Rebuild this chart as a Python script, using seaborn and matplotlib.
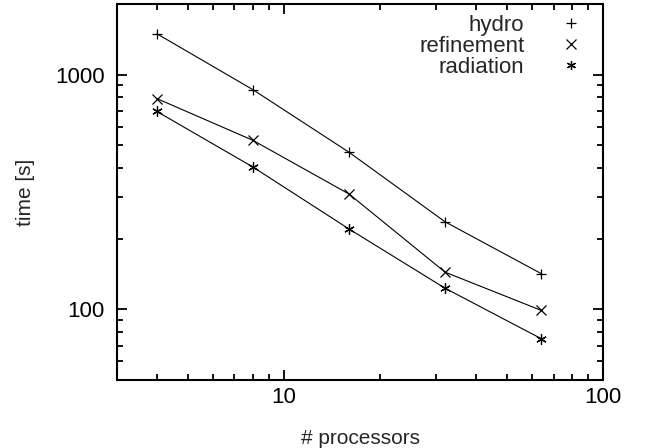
import numpy as np
import pandas as pd
import seaborn as sb
import matplotlib
matplotlib.use("Agg")
import matplotlib.pyplot as plt
from matplotlib.ticker import LogLocator, NullFormatter, FixedLocator, FixedFormatter

# processors used in each run
processors = [4, 8, 16, 32, 64]

# wall-clock time per component [s]
hydro = [1494, 863, 467, 236, 142]
refinement = [791, 525, 310, 144, 99]
radiation = [697, 404, 220, 123, 75]

series_names = ["hydro", "refinement", "radiation"]
series_values = [hydro, refinement, radiation]
series_markers = ["+", "x", (6, 2, 0)]

sb.set_style("ticks", {"xtick.direction": "in", "ytick.direction": "in",
                       "xtick.top": True, "ytick.right": True})
plt.rcParams["font.family"] = ["Liberation Sans", "DejaVu Sans"]

fig = plt.figure(figsize=(6.45, 4.48), dpi=100)
ax = fig.add_axes([0.1814, 0.1518, 0.7536, 0.8392])

for name, vals, mk in zip(series_names, series_values, series_markers):
    df = pd.DataFrame({"procs": processors, "time": vals})
    sb.lineplot(data=df, x="procs", y="time", ax=ax, color="black", lw=0.8,
                marker=mk, markersize=7.5, markeredgewidth=0.9,
                markeredgecolor="black", markerfacecolor="none")
    # legend entry: marker only
    ax.plot([], [], ls="none", marker=mk, color="black", markersize=6.5,
            markeredgewidth=0.9, label=name)

ax.set_xscale("log")
ax.set_yscale("log")
ax.set_xlim(3, 100)
ax.set_ylim(50, 2000)

ax.xaxis.set_major_locator(FixedLocator([10, 100]))
ax.xaxis.set_major_formatter(FixedFormatter(["10", "100"]))
ax.xaxis.set_minor_locator(LogLocator(base=10, subs=np.arange(2, 10)))
ax.xaxis.set_minor_formatter(NullFormatter())
ax.yaxis.set_major_locator(FixedLocator([100, 1000]))
ax.yaxis.set_major_formatter(FixedFormatter(["100", "1000"]))
ax.yaxis.set_minor_locator(LogLocator(base=10, subs=np.arange(2, 10)))
ax.yaxis.set_minor_formatter(NullFormatter())

ax.tick_params(which="both", direction="in", top=True, right=True,
               bottom=True, left=True,
               colors="black", labelsize=16, width=1.3)
ax.tick_params(which="major", length=7)
ax.tick_params(axis="x", which="major", pad=5)
ax.tick_params(axis="y", which="major", pad=9)
ax.tick_params(which="minor", length=4)

for sp in ax.spines.values():
    sp.set_visible(True)
    sp.set_color("black")
    sp.set_linewidth(1.5)

ax.set_xlabel("# processors", fontsize=15, labelpad=15)
ax.set_ylabel("time [s]", fontsize=15, labelpad=14)

ax.legend(loc="upper right", frameon=False, markerfirst=False, fontsize=16,
          handlelength=1.0, handletextpad=1.6, labelspacing=0.0,
          borderaxespad=0.0, bbox_to_anchor=(0.975, 0.995))

fig.savefig("out.png", dpi=100)
